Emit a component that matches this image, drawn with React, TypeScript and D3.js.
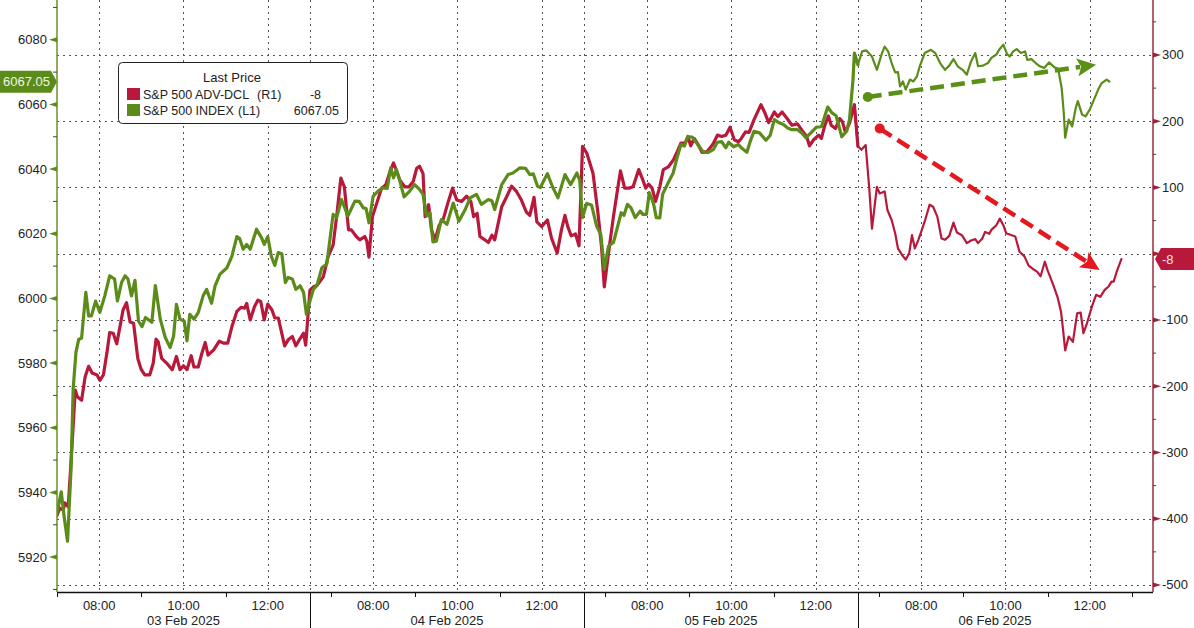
import React from 'react';
import * as d3 from 'd3';

// [day index, minutes since 06:30 session open, value]
type Pt = [number, number, number];

const dates = ['03 Feb 2025', '04 Feb 2025', '05 Feb 2025', '06 Feb 2025'];
const labelHours = ['08:00', '10:00', '12:00'];
const minorHours = ['07:00', '09:00', '11:00', '13:00'];
const leftTicks = [5920, 5940, 5960, 5980, 6000, 6020, 6040, 6060, 6080];
const leftMinor = [5910, 5930, 5950, 5970, 5990, 6010, 6030, 6050, 6070, 6090];
const rightTicks = [300, 200, 100, 0, -100, -200, -300, -400, -500];
const rightMinor = [350, 250, 150, 50, -50, -150, -250, -350, -450];
const seriesNames = ['S&P 500 ADV-DCL', 'S&P 500 INDEX'];
const axisTags = ['(R1)', '(L1)'];
const legendTitle = 'Last Price';

const spx: Pt[] = [
  [0,30,5933.4],[0,36,5940.2],[0,40,5932.8],[0,45,5924.9],[0,50,5947.3],[0,53,5972],[0,57,5983.4],[0,61,5987.4],[0,65,5987.7],[0,71,6001.9],
  [0,75,5994.6],[0,79,5994.6],[0,85,5999.2],[0,91,5995.7],[0,98,6000.8],[0,105,6007],[0,112,6006],[0,116,5999.2],[0,122,6005],[0,127,6007],
  [0,131,6006],[0,136,6000.8],[0,141,6005.6],[0,146,5993],[0,151,5991.3],[0,156,5994.1],[0,165,5992.6],[0,170,6004],[0,177,5993.6],[0,184,5988],
  [0,191,5984.8],[0,196,5988.4],[0,200,5998.2],[0,205,5993.6],[0,211,5993],[0,215,5986.9],[0,219,5995.1],[0,225,5993.6],[0,231,5995.6],[0,238,6000.8],
  [0,243,6002.8],[0,250,5998.5],[0,255,6003.9],[0,262,6007.5],[0,272,6009.5],[0,279,6013.1],[0,286,6019.1],[0,290,6018.5],[0,295,6015.2],[0,300,6016.7],
  [0,305,6015.2],[0,314,6021.4],[0,321,6018.8],[0,325,6016.7],[0,330,6019.1],[0,335,6013.1],[0,340,6010.2],[0,345,6014.2],[0,350,6013.8],[0,355,6004.9],
  [0,359,6006.5],[0,365,6006],[0,370,6002.8],[0,376,6003.9],[0,381,6001.8],[0,385,5995.1],
  [1,0,5999.2],[1,5,6002.8],[1,10,6004],[1,17,6009.5],[1,24,6010.6],[1,33,6026],[1,38,6025],[1,45,6030.6],[1,54,6025.5],[1,64,6030.1],
  [1,70,6030],[1,76,6028],[1,80,6027.8],[1,84,6023.4],[1,90,6031.6],[1,97,6033.2],[1,104,6034.2],[1,110,6034],[1,115,6040.4],[1,119,6037.3],
  [1,123,6039.9],[1,128,6036.3],[1,134,6031.4],[1,142,6033.2],[1,149,6035.2],[1,156,6033.7],[1,161,6032.2],[1,166,6025.5],[1,171,6026.5],[1,175,6017.5],
  [1,180,6017.7],[1,187,6024.4],[1,195,6022.9],[1,204,6029.5],[1,212,6023.9],[1,221,6027.5],[1,228,6031.1],[1,237,6032.2],[1,244,6029.1],[1,254,6030.6],
  [1,259,6030.2],[1,263,6027.5],[1,273,6035.2],[1,282,6038.3],[1,289,6038.8],[1,299,6040.4],[1,307,6040.2],[1,313,6038.3],[1,318,6038.5],[1,324,6034.7],
  [1,328,6034.3],[1,338,6038.6],[1,345,6034.7],[1,353,6031.1],[1,363,6038.3],[1,371,6035.2],[1,380,6038.8],[1,384,6036.5],[1,388,6025],
  [2,4,6029.4],[2,11,6028.8],[2,18,6022.4],[2,24,6019.8],[2,29,6009],[2,35,6016.2],[2,42,6017.3],[2,47,6021.4],[2,53,6026.5],[2,57,6025.7],
  [2,62,6029.1],[2,67,6028],[2,73,6025],[2,80,6027],[2,84,6026],[2,89,6026],[2,93,6032.7],[2,99,6029.4],[2,103,6025],[2,108,6024.9],
  [2,112,6032.2],[2,120,6035.8],[2,127,6038.8],[2,132,6043],[2,138,6047.6],[2,143,6047.1],[2,148,6050],[2,154,6049.9],[2,162,6047.6],[2,170,6045.2],
  [2,177,6045.2],[2,184,6046],[2,190,6048.3],[2,196,6048.5],[2,202,6046.6],[2,206,6048.3],[2,213,6046.9],[2,220,6047.6],[2,224,6046.6],[2,232,6045.2],
  [2,236,6048.1],[2,242,6051.7],[2,250,6051.2],[2,259,6048.9],[2,265,6050.4],[2,271,6055.3],[2,278,6054.3],[2,284,6053.8],[2,290,6052.7],[2,296,6052.2],
  [2,303,6052.3],[2,310,6051.2],[2,316,6049.7],[2,323,6051.2],[2,331,6053],[2,338,6053.1],[2,347,6059.2],[2,353,6057.4],[2,359,6056.5],[2,367,6050],
  [2,374,6051.7],[2,378,6055.3],[2,383,6067.7],[2,385,6075.9],
  [3,0,6072.3],[3,6,6076.4],[3,12,6076.7],[3,20,6074.8],[3,27,6070.7],[3,34,6075.7],[3,38,6077.9],[3,43,6076.4],[3,48,6072.8],[3,53,6069.9],
  [3,57,6070],[3,60,6065.6],[3,64,6067.1],[3,68,6064.6],[3,74,6067.7],[3,79,6067.1],[3,84,6068.7],[3,88,6071.8],[3,95,6075.9],[3,104,6076.9],
  [3,110,6075.9],[3,117,6072.8],[3,124,6070.7],[3,130,6072],[3,136,6074],[3,142,6071.8],[3,149,6070.7],[3,155,6069.2],[3,161,6073.3],[3,167,6075.9],
  [3,171,6071.8],[3,178,6072],[3,185,6072.8],[3,190,6074.4],[3,197,6075.4],[3,201,6076.9],[3,207,6078.5],[3,212,6075.7],[3,216,6074.8],[3,221,6076.4],
  [3,226,6077.1],[3,232,6075.9],[3,238,6076.4],[3,241,6073.8],[3,247,6074],[3,253,6072.8],[3,259,6071.8],[3,265,6071.3],[3,272,6073],[3,279,6071.6],
  [3,285,6071],[3,290,6065.1],[3,293,6057.4],[3,295,6049.7],[3,300,6055.3],[3,305,6053.2],[3,310,6058.9],[3,313,6061],[3,319,6056.9],[3,324,6056.3],
  [3,330,6058.4],[3,336,6061.5],[3,342,6064.6],[3,347,6066.6],[3,354,6067.7],[3,358,6067.05],
];

const advDcl: Pt[] = [
  [0,30,-395],[0,34,-384],[0,39,-387],[0,41,-376],[0,46,-382],[0,51,-296],[0,56,-206],[0,59,-216],[0,65,-221],[0,70,-186],
  [0,75,-170],[0,80,-180],[0,87,-183],[0,91,-191],[0,96,-183],[0,101,-150],[0,105,-119],[0,110,-120],[0,115,-136],[0,120,-108],
  [0,124,-85],[0,129,-74],[0,134,-103],[0,139,-105],[0,145,-158],[0,150,-175],[0,155,-183],[0,162,-183],[0,167,-165],[0,171,-129],
  [0,174,-133],[0,179,-158],[0,186,-165],[0,194,-175],[0,200,-155],[0,205,-175],[0,210,-169],[0,215,-175],[0,221,-154],[0,225,-171],
  [0,231,-171],[0,236,-151],[0,241,-134],[0,245,-153],[0,253,-145],[0,261,-132],[0,267,-135],[0,273,-135],[0,279,-110],[0,286,-87],
  [0,292,-81],[0,297,-82],[0,300,-75],[0,305,-100],[0,311,-80],[0,316,-70],[0,320,-72],[0,325,-100],[0,330,-76],[0,336,-85],
  [0,340,-97],[0,345,-97],[0,354,-139],[0,359,-130],[0,365,-125],[0,370,-139],[0,376,-128],[0,381,-120],[0,384,-138],
  [1,0,-55],[1,5,-50],[1,10,-48],[1,19,-35],[1,26,-4],[1,33,13],[1,38,56],[1,44,114],[1,49,101],[1,55,36],
  [1,59,36],[1,66,26],[1,71,21],[1,78,26],[1,81,19],[1,84,-5],[1,89,56],[1,95,76],[1,102,99],[1,108,104],
  [1,114,124],[1,119,137],[1,123,126],[1,128,111],[1,135,101],[1,141,101],[1,147,109],[1,152,129],[1,156,132],[1,161,121],
  [1,164,56],[1,169,74],[1,173,36],[1,178,21],[1,184,43],[1,190,53],[1,197,79],[1,203,99],[1,209,81],[1,216,79],
  [1,223,87],[1,229,79],[1,233,56],[1,238,61],[1,242,26],[1,249,21],[1,254,17],[1,259,28],[1,263,21],[1,273,71],
  [1,280,86],[1,287,102],[1,294,94],[1,301,81],[1,308,63],[1,313,58],[1,319,85],[1,323,48],[1,330,41],[1,338,51],
  [1,344,23],[1,352,1],[1,358,36],[1,363,58],[1,367,41],[1,372,27],[1,378,30],[1,383,12],[1,388,162],
  [2,4,152],[2,13,121],[2,20,61],[2,25,11],[2,29,-50],[2,35,1],[2,42,56],[2,47,91],[2,52,125],[2,58,99],
  [2,64,99],[2,70,101],[2,78,127],[2,84,111],[2,88,99],[2,92,105],[2,97,99],[2,102,79],[2,108,101],[2,113,127],
  [2,120,131],[2,127,141],[2,132,152],[2,138,167],[2,144,167],[2,148,177],[2,152,163],[2,157,174],[2,163,164],[2,168,153],
  [2,175,154],[2,179,159],[2,184,166],[2,190,179],[2,196,177],[2,202,179],[2,208,191],[2,214,172],[2,220,169],[2,224,174],
  [2,230,184],[2,235,183],[2,242,202],[2,252,225],[2,257,214],[2,263,198],[2,271,214],[2,276,207],[2,282,214],[2,290,203],
  [2,296,194],[2,304,196],[2,310,187],[2,317,177],[2,321,163],[2,327,172],[2,334,179],[2,338,174],[2,343,194],[2,348,208],
  [2,352,194],[2,358,189],[2,364,204],[2,368,199],[2,372,184],[2,378,197],[2,385,225],
  [3,0,162],[3,5,157],[3,11,164],[3,16,101],[3,20,38],[3,27,101],[3,31,91],[3,38,94],[3,42,66],[3,48,51],
  [3,53,31],[3,57,8],[3,63,-2],[3,68,-9],[3,73,1],[3,77,28],[3,81,8],[3,86,21],[3,91,36],[3,96,52],
  [3,102,74],[3,107,71],[3,113,56],[3,119,23],[3,124,21],[3,130,27],[3,136,47],[3,141,32],[3,148,28],[3,155,16],
  [3,161,20],[3,167,22],[3,171,16],[3,177,23],[3,181,33],[3,187,30],[3,190,36],[3,197,43],[3,202,53],[3,207,43],
  [3,211,31],[3,219,28],[3,224,26],[3,230,3],[3,237,-4],[3,243,-18],[3,249,-23],[3,255,-27],[3,260,-34],[3,266,-12],
  [3,270,-25],[3,278,-47],[3,284,-65],[3,289,-87],[3,292,-115],[3,295,-146],[3,300,-125],[3,306,-133],[3,312,-90],[3,317,-89],
  [3,321,-120],[3,326,-105],[3,333,-80],[3,339,-62],[3,345,-65],[3,351,-55],[3,357,-49],[3,361,-42],[3,364,-42],[3,369,-25],
  [3,375,-8],
];

// trend annotations (data space): [day, minutes since open, value]
const trendSpx: Pt[] = [[3, 14, 6062.3], [3, 339, 6072.3]];
const trendAdv: Pt[] = [[3, 31, 189], [3, 344, -24.5]];

const W = 1194;
const H = 628;
const PL = 57;
const PR = 1153;
const PB = 592;
const PT = 0;

const GREEN = '#5b8c1a';
const RED = '#b8193b';
const ARROW_GREEN = '#5a9016';
const ARROW_RED = '#e5171f';
const FONT = '"Liberation Sans", Arial, sans-serif';

function chartHour(day: number, min: number): number {
  return day === 0 ? (min - 30) / 60 : 6 + (day - 1) * 6.5 + min / 60;
}
function clockHour(day: number, hhmm: string): number {
  const [h, m] = hhmm.split(':').map(Number);
  return chartHour(day, h * 60 + m - 390);
}

const x = d3.scaleLinear().domain([0, 26]).range([PL, PR]);
const yL = d3.scaleLinear().domain([5909.2, 6092.3]).range([PB, PT]);
const yR = d3.scaleLinear().domain([-510.6, 383]).range([PB, PT]);

function splitSeries(data: Pt[]): [Pt[], Pt[]] {
  const thick = data.filter((d) => d[0] < 3);
  const thin = data.filter((d) => d[0] === 3);
  return [[...thick, thin[0]], [thick[thick.length - 1], ...thin]];
}

function Arrow({ pts, y, color }: { pts: Pt[]; y: d3.ScaleLinear<number, number>; color: string }) {
  const x0 = x(chartHour(pts[0][0], pts[0][1]));
  const y0 = y(pts[0][2]);
  const x1 = x(chartHour(pts[1][0], pts[1][1]));
  const y1 = y(pts[1][2]);
  const ang = Math.atan2(y1 - y0, x1 - x0);
  const headLen = 19;
  const headHalf = 9;
  const bx = x1 - headLen * Math.cos(ang);
  const by = y1 - headLen * Math.sin(ang);
  const px = -Math.sin(ang);
  const py = Math.cos(ang);
  const head = `M${x1},${y1} L${bx + px * headHalf},${by + py * headHalf} L${bx + 4 * Math.cos(ang)},${by + 4 * Math.sin(ang)} L${bx - px * headHalf},${by - py * headHalf} Z`;
  return (
    <g>
      <line x1={x0} y1={y0} x2={bx + 3 * Math.cos(ang)} y2={by + 3 * Math.sin(ang)} stroke={color} strokeWidth={4.5} strokeDasharray="14,7" />
      <circle cx={x0} cy={y0} r={5} fill={color} />
      <path d={head} fill={color} />
    </g>
  );
}

export default function App() {
  const lineL = d3.line<Pt>().x((d) => x(chartHour(d[0], d[1]))).y((d) => yL(d[2]));
  const lineR = d3.line<Pt>().x((d) => x(chartHour(d[0], d[1]))).y((d) => yR(d[2]));
  const [spxA, spxB] = splitSeries(spx);
  const [advA, advB] = splitSeries(advDcl);
  const lastSpx = spx[spx.length - 1][2];
  const lastAdv = advDcl[advDcl.length - 1][2];
  const ySpx = yL(lastSpx);
  const yAdv = yR(lastAdv);

  const days = dates.map((_, i) => i);
  const gridXs: number[] = [];
  const minorXs: number[] = [];
  const timeLabels: { x: number; t: string }[] = [];
  days.forEach((d) => {
    labelHours.forEach((t) => {
      const h = clockHour(d, t);
      gridXs.push(x(h));
      timeLabels.push({ x: x(h), t });
    });
    minorHours.forEach((t) => {
      const h = clockHour(d, t);
      if (h >= 0 && h <= 26) minorXs.push(x(h));
    });
  });
  const sepXs = [1, 2, 3].map((d) => x(chartHour(d, 0)));
  const dateCenters = days.map((d) => (d === 0 ? x(3) : x(chartHour(d, 0) + 3.25)));

  // tick labels hidden behind the last-value boxes are not drawn
  const leftLabelTicks = leftTicks.filter((v) => Math.abs(yL(v) - ySpx) > 13);
  const rightLabelTicks = rightTicks.filter((v) => Math.abs(yR(v) - yAdv) > 13);

  return (
    <svg width={W} height={H} style={{ position: 'absolute', left: 0, top: 0, background: '#fff' }} fontFamily={FONT}>
      <defs>
        <clipPath id="plot">
          <rect x={PL} y={PT} width={PR - PL} height={PB - PT} />
        </clipPath>
      </defs>
      <rect x={0} y={0} width={W} height={H} fill="#fff" />

      {/* grid */}
      <g stroke="#555" strokeWidth={1} strokeDasharray="2,4">
        {rightTicks.map((v) => (
          <line key={'h' + v} x1={PL} x2={PR} y1={Math.round(yR(v)) + 0.5} y2={Math.round(yR(v)) + 0.5} />
        ))}
        {[...gridXs, ...sepXs].map((gx, i) => (
          <line key={'v' + i} x1={Math.round(gx) + 0.5} x2={Math.round(gx) + 0.5} y1={PT} y2={PB} />
        ))}
      </g>

      {/* series */}
      <g clipPath="url(#plot)" fill="none" strokeLinejoin="round" strokeLinecap="round">
        <path d={lineR(advA) || ''} stroke={RED} strokeWidth={3.2} />
        <path d={lineR(advB) || ''} stroke={RED} strokeWidth={2.2} />
        <path d={lineL(spxA) || ''} stroke={GREEN} strokeWidth={3.2} />
        <path d={lineL(spxB) || ''} stroke={GREEN} strokeWidth={2.2} />
      </g>

      {/* annotations */}
      <Arrow pts={trendSpx} y={yL} color={ARROW_GREEN} />
      <Arrow pts={trendAdv} y={yR} color={ARROW_RED} />

      {/* x axis */}
      <line x1={PL} x2={PR} y1={PB + 0.5} y2={PB + 0.5} stroke="#111" strokeWidth={1.5} />
      {minorXs.map((mx, i) => (
        <line key={'mt' + i} x1={Math.round(mx) + 0.5} x2={Math.round(mx) + 0.5} y1={PB} y2={PB + 5} stroke="#111" />
      ))}
      {sepXs.map((sx, i) => (
        <line key={'sep' + i} x1={Math.round(sx) + 0.5} x2={Math.round(sx) + 0.5} y1={PB} y2={H} stroke="#111" strokeWidth={1} />
      ))}
      {timeLabels.map((l, i) => (
        <text key={'tl' + i} x={l.x} y={610} textAnchor="middle" fontSize={13} fill="#222">
          {l.t}
        </text>
      ))}
      {dates.map((d, i) => (
        <text key={'dl' + i} x={dateCenters[i]} y={625} textAnchor="middle" fontSize={13} fill="#222">
          {d}
        </text>
      ))}

      {/* left axis */}
      <line x1={PL} x2={PL} y1={PT} y2={PB} stroke="#6a8f2a" strokeWidth={1.5} />
      {leftMinor.map((v) => (
        <line key={'lm' + v} x1={PL - 4} x2={PL} y1={yL(v)} y2={yL(v)} stroke="#444" strokeWidth={1} />
      ))}
      {leftTicks.map((v) => (
        <path key={'lt' + v} d={`M${PL},${yL(v) - 2.5} L${PL},${yL(v) + 2.5} L${PL - 8},${yL(v)} Z`} fill={GREEN} />
      ))}
      {leftLabelTicks.map((v) => (
        <text key={'ltl' + v} x={PL - 10} y={yL(v) + 4.5} textAnchor="end" fontSize={13} fill="#222">
          {v}
        </text>
      ))}

      {/* right axis */}
      <line x1={PR} x2={PR} y1={PT} y2={PB} stroke="#9c2a42" strokeWidth={1.5} />
      {rightMinor.map((v) => (
        <line key={'rm' + v} x1={PR} x2={PR + 3} y1={yR(v)} y2={yR(v)} stroke="#444" strokeWidth={1} />
      ))}
      {rightTicks.map((v) => (
        <path key={'rt' + v} d={`M${PR},${yR(v) - 2.5} L${PR},${yR(v) + 2.5} L${PR + 8},${yR(v)} Z`} fill="#9b2335" />
      ))}
      {rightLabelTicks.map((v) => (
        <text key={'rtl' + v} x={PR + 9} y={yR(v) + 4.5} textAnchor="start" fontSize={13} fill="#222">
          {v}
        </text>
      ))}

      {/* last value boxes */}
      <path
        d={`M0,${ySpx - 11} L${PL - 6},${ySpx - 11} L${PL},${ySpx} L${PL - 6},${ySpx + 11} L0,${ySpx + 11} Z`}
        fill={GREEN}
      />
      <text x={3} y={ySpx + 4.5} fontSize={13} fill="#eef5e2">
        {lastSpx.toFixed(2)}
      </text>
      <path
        d={`M${W},${yAdv - 11} L${PR + 8},${yAdv - 11} L${PR + 2},${yAdv} L${PR + 8},${yAdv + 11} L${W},${yAdv + 11} Z`}
        fill={RED}
      />
      <text x={PR + 9} y={yAdv + 4.5} fontSize={13} fill="#ffe3e8">
        {String(lastAdv)}
      </text>

      {/* legend */}
      <g>
        <rect x={118.5} y={62.5} width={229} height={61} rx={4} fill="#fff" stroke="#222" strokeWidth={1} />
        <text x={232} y={82} textAnchor="middle" fontSize={13} fill="#222">
          {legendTitle}
        </text>
        <rect x={127} y={88} width={13} height={12} fill={RED} />
        <text x={143} y={99} fontSize={12.5} fill="#222">{seriesNames[0]}</text>
        <text x={257} y={99} fontSize={12.5} fill="#222">{axisTags[0]}</text>
        <text x={321} y={99} fontSize={12.5} fill="#222" textAnchor="end">{String(lastAdv)}</text>
        <rect x={127} y={104} width={13} height={12} fill={GREEN} />
        <text x={143} y={115} fontSize={12.5} fill="#222">{seriesNames[1]}</text>
        <text x={238} y={115} fontSize={12.5} fill="#222">{axisTags[1]}</text>
        <text x={339} y={115} fontSize={12.5} fill="#222" textAnchor="end">{lastSpx.toFixed(2)}</text>
      </g>
    </svg>
  );
}
